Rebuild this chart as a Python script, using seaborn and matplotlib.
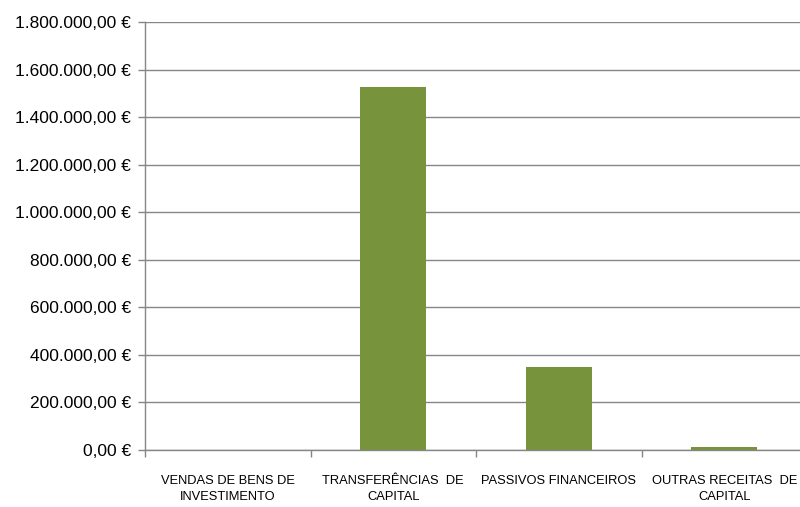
import matplotlib
matplotlib.use("Agg")
import matplotlib.pyplot as plt
import seaborn as sns
import pandas as pd
from matplotlib.ticker import FuncFormatter, FixedLocator

categories = ["VENDAS DE BENS DE\nINVESTIMENTO", "TRANSFERÊNCIAS  DE\nCAPITAL",
              "PASSIVOS FINANCEIROS", "OUTRAS RECEITAS  DE\nCAPITAL"]
values = [2000, 1527000, 350000, 11000]
yticks = [0, 200000, 400000, 600000, 800000, 1000000, 1200000, 1400000, 1600000, 1800000]

sns.set_theme(style="white")
plt.rcParams['font.family'] = ['Liberation Sans', 'DejaVu Sans']

df = pd.DataFrame({"cat": categories, "val": values})
fig = plt.figure(figsize=(8, 5.07), dpi=100)
W, H = 800, 507
ax = fig.add_axes([145 / W, (H - 450) / H, 662 / W, 428 / H])
sns.barplot(data=df, x="cat", y="val", color="#77933C", width=0.4, ax=ax,
            saturation=1, linewidth=0)

ax.set_ylim(0, 1800000)
ax.set_xlim(-0.5, 3.5)
ax.set_yticks(yticks)
gc = "#868686"
ax.yaxis.grid(True, color=gc, linewidth=1)
ax.set_axisbelow(True)

def fmt(v, pos):
    s = f"{v:,.2f}".replace(",", "X").replace(".", ",").replace("X", ".")
    return s + " €"
ax.yaxis.set_major_formatter(FuncFormatter(fmt))

for s in ["top", "right"]:
    ax.spines[s].set_visible(False)
for s in ["left", "bottom"]:
    ax.spines[s].set_color(gc)
    ax.spines[s].set_linewidth(1)

ax.tick_params(axis="y", which="major", left=True, length=5, color=gc, width=1,
               labelsize=12.5, labelcolor="black", pad=5)
ax.tick_params(axis="x", which="major", bottom=False, labelsize=9.3, labelcolor="black", pad=12)
for lab in ax.get_xticklabels():
    lab.set_linespacing(1.45)
ax.xaxis.set_minor_locator(FixedLocator([-0.5, 0.5, 1.5, 2.5, 3.5]))
ax.tick_params(axis="x", which="minor", bottom=True, length=5, color=gc, width=1)
ax.set_xlabel("")
ax.set_ylabel("")

fig.savefig("out.png", dpi=100)
